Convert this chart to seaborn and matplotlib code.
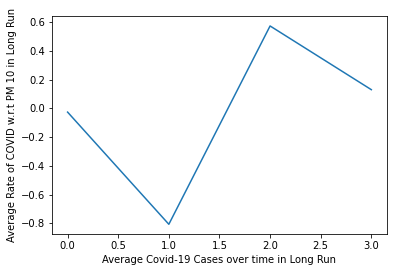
import matplotlib
matplotlib.use('Agg')
import matplotlib.pyplot as plt
import pandas as pd
import seaborn as sns

# values
cases = [0, 1, 2, 3]
rates = [-0.026, -0.806, 0.573, 0.130]

df = pd.DataFrame({'cases': cases, 'rate': rates})

fig, ax = plt.subplots(figsize=(394 / 72, 272 / 72), dpi=72)
fig.subplots_adjust(left=0.133, right=0.981, top=0.941, bottom=0.139)

sns.lineplot(data=df, x='cases', y='rate', ax=ax, color='#1f77b4')

ax.set_xlabel('Average Covid-19 Cases over time in Long Run')
ax.set_ylabel('Average Rate of COVID w.r.t PM 10 in Long Run')

fig.savefig('out.png', dpi=72)
